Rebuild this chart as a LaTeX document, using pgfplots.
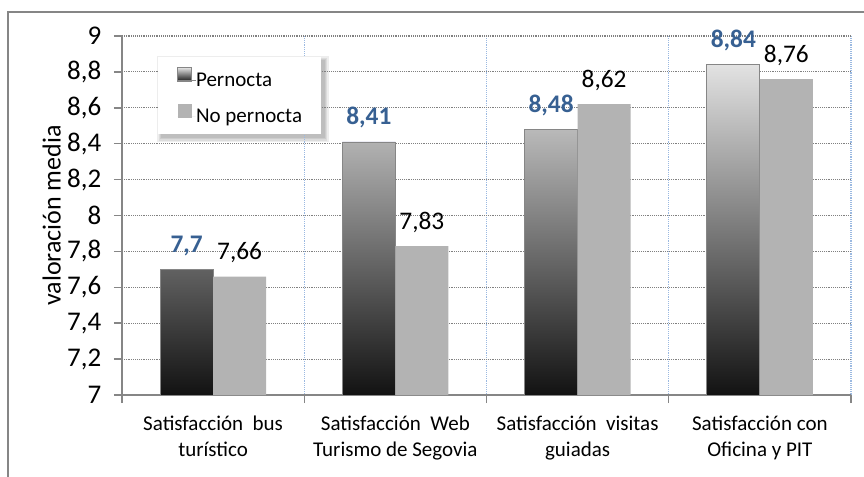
\documentclass[border=0pt]{standalone}
\usepackage{fontspec}
\setmainfont{Carlito}
\usepackage{pgfplots}
\usepackage{pgfplotstable}
\pgfplotsset{compat=1.18}
\usetikzlibrary{backgrounds}

\definecolor{axgray}{RGB}{134,134,134}
\definecolor{gridgray}{RGB}{128,128,128}
\definecolor{gridblue}{RGB}{155,185,225}
\definecolor{barlight}{RGB}{179,179,179}
\definecolor{valblue}{RGB}{55,96,146}
\definecolor{gradtop}{RGB}{226,226,226}
\definecolor{gradbot}{RGB}{18,18,18}

% values are read from the y axis, which starts at 7
\pgfplotstableread{
x v
0.5 7.70
1.5 8.41
2.5 8.48
3.5 8.84
}\pernocta
\pgfplotstableread{
x v
0.5 7.66
1.5 7.83
2.5 8.62
3.5 8.76
}\nopernocta

\begin{document}
\begin{tikzpicture}
\useasboundingbox (0,0) rectangle (648pt,357pt);
\draw[axgray, line width=1.1pt] (6pt,-10pt) -- (6pt,348pt) -- (660pt,348pt);
\begin{axis}[
    at={(91.5pt,60.75pt)}, anchor=south west,
    scale only axis, width=546.75pt, height=269.25pt,
    xmin=0, xmax=4, ymin=0, ymax=2,
    ybar=0pt, bar width=39.75pt,
    axis x line=bottom, axis y line=left,
    axis line style={-, axgray, line width=1.1pt},
    tick align=outside, major tick length=6pt,
    tick style={axgray, line width=1.1pt},
    /pgf/number format/assume math mode=true,
    /pgf/number format/use comma,
    ytick={0,0.2,0.4,0.6,0.8,1,1.2,1.4,1.6,1.8,2},
    yticklabels={7,{7,2},{7,4},{7,6},{7,8},8,{8,2},{8,4},{8,6},{8,8},9},
    yticklabel style={font=\fontsize{20.25}{24}\selectfont, xshift=-6pt},
    ymajorgrids, y grid style={gridgray, densely dotted, line width=0.8pt},
    xtick={0,1,2,3,4}, xticklabels={,,,,},
    xmajorgrids, x grid style={gridblue, densely dotted, line width=0.8pt},
    extra x ticks={0.5,1.5,2.5,3.5},
    extra x tick labels={{Satisfacción~ bus\\turístico},{Satisfacción~ Web\\Turismo de Segovia},{Satisfacción~ visitas\\guiadas},{Satisfacción con\\Oficina y PIT}},
    extra x tick style={grid=none, major tick length=0pt},
    xticklabel style={align=center, font=\fontsize{15.75}{19.5}\selectfont, yshift=-12pt},
    ylabel={valoración media},
    ylabel style={font=\fontsize{19.5}{23}\selectfont, at={(axis description cs:-0.0965,0.5)}, anchor=center},
    legend style={name=leg, at={(rel axis cs:0.0494,0.9415)}, anchor=north west, draw=none, fill=white,
        font=\fontsize{15.75}{18}\selectfont, inner xsep=14.25pt, inner ysep=7.5pt,
        row sep=11.5pt, nodes={inner sep=0pt}},
    legend cell align=left,
    legend image code/.code={\path[#1] (0pt,-0.75pt) rectangle (10.5pt,9.75pt); \path (0pt,0pt) -- (13.5pt,0pt);},
    nodes near coords={\pgfmathprintnumber{\pgfplotspointmeta}},
    every node near coord/.append style={anchor=base, yshift=12.75pt, font=\fontsize{19}{22}\selectfont},
]
\addplot+[draw=axgray, line width=0.6pt, top color=gradtop, bottom color=gradbot,
    point meta=explicit,
    every node near coord/.append style={text=valblue, font=\fontsize{19}{22}\selectfont\bfseries}]
    table[x=x, y expr=\thisrow{v}-7, meta=v] {\pernocta};
\addlegendentry{Pernocta}
\addplot+[draw=none, fill=barlight, point meta=explicit,
    every node near coord/.append style={text=black}]
    table[x=x, y expr=\thisrow{v}-7, meta=v] {\nopernocta};
\addlegendentry{No pernocta}
\end{axis}
\begin{scope}[on background layer]
\foreach \r in {0pt,1pt,2pt,3pt}{
  \fill[black, opacity=0.07] ([shift={(2.5pt-\r,-2.5pt-\r)}]leg.south west) rectangle ([shift={(2.5pt+\r,-2.5pt+\r)}]leg.north east);
}
\end{scope}
\end{tikzpicture}
\end{document}
